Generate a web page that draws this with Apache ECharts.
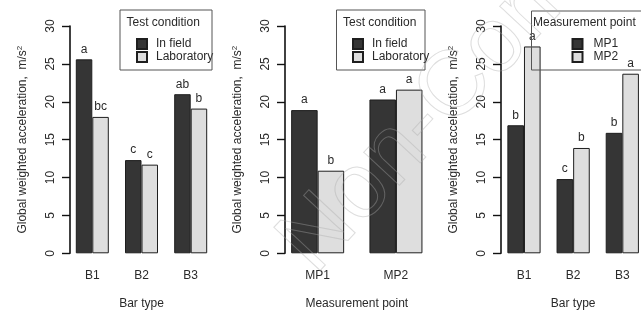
<!DOCTYPE html>
<html>
<head>
<meta charset="utf-8">
<script src="https://cdn.jsdelivr.net/npm/echarts@6/dist/echarts.min.js"></script>
<style>html,body{margin:0;padding:0;background:#fff}#c{width:641px;height:312px}</style>
</head>
<body>
<div id="c"></div>
<script>
// Panel 1: bar type x test condition
const cats1 = ['B1', 'B2', 'B3'];
const inField1 = [25.6, 12.3, 21.0];
const lab1 = [18.0, 11.7, 19.1];
const inFieldLetters1 = ['a', 'c', 'ab'];
const labLetters1 = ['bc', 'c', 'b'];
// Panel 2: measurement point x test condition
const cats2 = ['MP1', 'MP2'];
const inField2 = [18.9, 20.3];
const lab2 = [10.9, 21.6];
const inFieldLetters2 = ['a', 'a'];
const labLetters2 = ['b', 'a'];
// Panel 3: bar type x measurement point
const cats3 = ['B1', 'B2', 'B3'];
const mp1 = [16.9, 9.8, 15.9];
const mp2 = [27.3, 13.9, 23.7];
const mp1Letters = ['b', 'c', 'b'];
const mp2Letters = ['a', 'b', 'a'];
const yTicks = [0, 5, 10, 15, 20, 25, 30];

const FONT = 'Liberation Sans, Arial, sans-serif';
const TXT = '#2a2a2a';
const DARK = '#353535';
const LIGHT = '#dedede';

const grids = [
  {left: 67.7, width: 147.6, top: 26, bottom: 58.7, off: -2.3},
  {left: 278.5, width: 156.6, top: 26, bottom: 58.7, off: -6.5},
  {left: 499.4, width: 147.5, top: 26, bottom: 58.7, off: -1.6}
];
const xNames = ['Bar type', 'Measurement point', 'Bar type'];
const catsAll = [cats1, cats2, cats3];

function barSeries(name, data, letters, gi, color, bw) {
  return {
    type: 'bar', name: name, data: data, xAxisIndex: gi, yAxisIndex: gi,
    barWidth: bw, barGap: '0%',
    itemStyle: {color: color, borderColor: '#1e1e1e', borderWidth: 1},
    label: {show: true, position: 'top', distance: 4, fontFamily: FONT, fontSize: 12, color: TXT,
      formatter: p => letters[p.dataIndex]},
    emphasis: {disabled: true}, animation: false
  };
}

function legendOf(names, left, pad) {
  return {data: names.map(n => ({name: n, icon: 'rect'})), orient: 'vertical', left: left, top: 33,
    itemWidth: 10, itemHeight: 10, itemGap: 1, selectedMode: false,
    textStyle: {fontFamily: FONT, fontSize: 12, color: TXT, padding: [0, 0, 0, pad]}};
}

const option = {
  backgroundColor: '#fff',
  animation: false,
  grid: grids.map(g => ({left: g.left, width: g.width, top: g.top, bottom: g.bottom,
    containLabel: false, outerBoundsMode: 'none'})),
  xAxis: grids.map((g, i) => ({
    type: 'category', gridIndex: i, data: catsAll[i],
    axisLine: {show: false}, axisTick: {show: false},
    axisLabel: {fontFamily: FONT, fontSize: 12, color: TXT, margin: 16},
    name: xNames[i], nameLocation: 'middle', nameGap: 44,
    nameTextStyle: {fontFamily: FONT, fontSize: 12, color: TXT}
  })),
  yAxis: grids.map((g, i) => ({
    type: 'value', gridIndex: i, min: 0, max: 30, interval: 5, offset: g.off,
    axisLine: {show: true, lineStyle: {color: '#111', width: 1.6}},
    axisTick: {show: true, length: 8, lineStyle: {color: '#111', width: 1.4}},
    splitLine: {show: false},
    axisLabel: {rotate: 90, fontFamily: FONT, fontSize: 12, color: TXT, margin: 13,
      formatter: v => yTicks.includes(v) ? String(v) : ''},
    name: 'Global weighted acceleration,  m/s{sup|2}',
    nameLocation: 'middle', nameGap: 40, nameRotate: 90,
    nameTextStyle: {fontFamily: FONT, fontSize: 12, color: TXT,
      rich: {sup: {fontFamily: FONT, fontSize: 8, color: TXT, verticalAlign: 'top', padding: [0, 0, 6, 0]}}}
  })),
  legend: [
    legendOf(['In field', 'Laboratory'], 131, 4),
    legendOf(['In field', 'Laboratory'], 347, 4),
    legendOf(['MP1', 'MP2'], 566.5, 6)
  ],
  graphic: [
    {type: 'rect', shape: {x: 120, y: 10, width: 92, height: 60}, style: {fill: 'none', stroke: '#555', lineWidth: 1}, z: 50},
    {type: 'rect', shape: {x: 336.5, y: 10, width: 88.5, height: 60}, style: {fill: 'none', stroke: '#555', lineWidth: 1}, z: 50},
    {type: 'rect', shape: {x: 531.5, y: 11, width: 130, height: 59}, style: {fill: 'none', stroke: '#555', lineWidth: 1}, z: 50},
    {type: 'text', x: 126.5, y: 23, style: {text: 'Test condition', font: '12px ' + FONT, fill: TXT, textVerticalAlign: 'middle'}, z: 50},
    {type: 'text', x: 343, y: 23, style: {text: 'Test condition', font: '12px ' + FONT, fill: TXT, textVerticalAlign: 'middle'}, z: 50},
    {type: 'text', x: 533, y: 23, style: {text: 'Measurement point', font: '12px ' + FONT, fill: TXT, textVerticalAlign: 'middle'}, z: 50},
    {type: 'text', x: 330, y: 290, rotation: 47 * Math.PI / 180,
      style: {text: 'Non-Commercial', font: '92px ' + FONT, fill: 'none', stroke: 'rgba(170,170,170,0.4)', lineWidth: 1,
        textVerticalAlign: 'bottom'}, z: 100, silent: true}
  ],
  series: [
    barSeries('In field', inField1, inFieldLetters1, 0, DARK, 16.5),
    barSeries('Laboratory', lab1, labLetters1, 0, LIGHT, 16.5),
    barSeries('In field', inField2, inFieldLetters2, 1, DARK, 26.5),
    barSeries('Laboratory', lab2, labLetters2, 1, LIGHT, 26.5),
    barSeries('MP1', mp1, mp1Letters, 2, DARK, 16.6),
    barSeries('MP2', mp2, mp2Letters, 2, LIGHT, 16.6)
  ]
};
const chart = echarts.init(document.getElementById('c'), null, {renderer: 'canvas'});
chart.setOption(option);
</script>
</body>
</html>
